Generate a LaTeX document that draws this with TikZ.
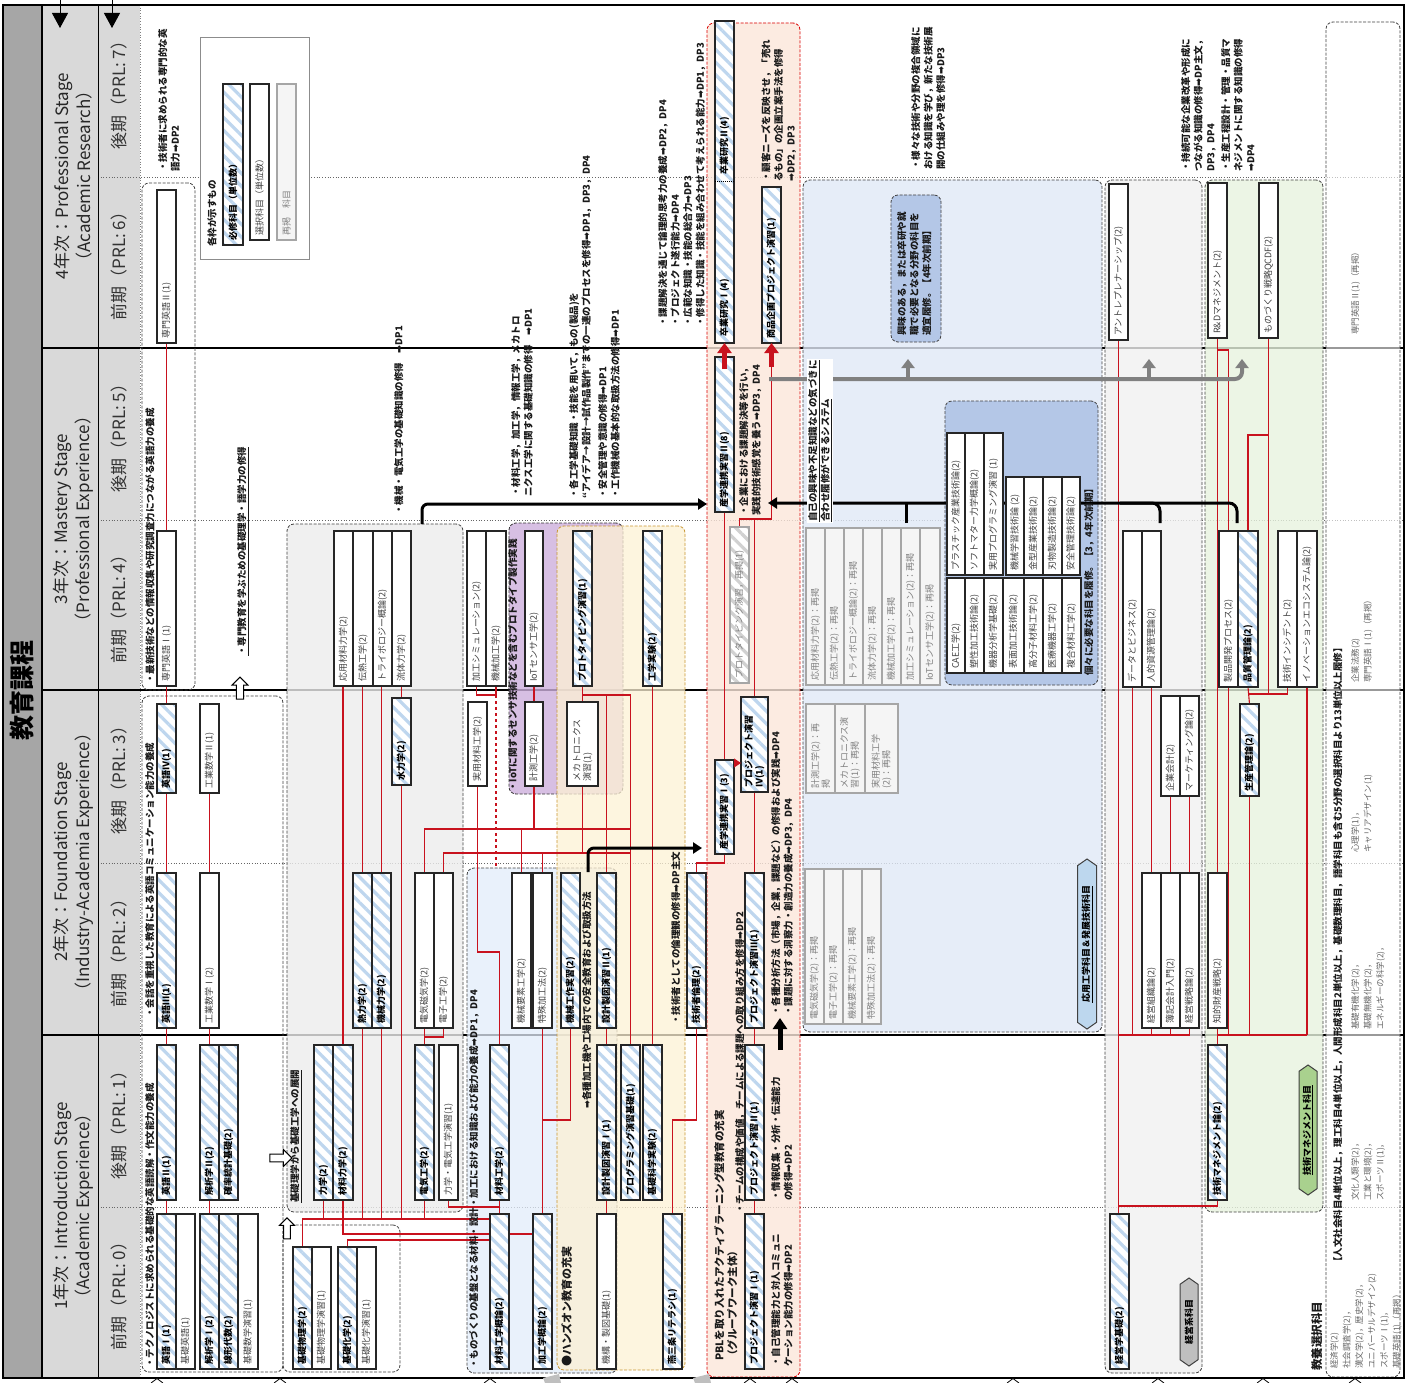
\documentclass[tikz,border=0pt]{standalone}
\usepackage{fontspec}
\setmainfont{Noto Sans CJK JP}
\setsansfont{Noto Sans CJK JP}
\newfontfamily\symfont{DejaVu Sans}
\usepackage{xcolor}
\definecolor{hatchblue}{RGB}{190,214,238}
\definecolor{linkred}{RGB}{200,18,30}
\definecolor{hdrgray}{RGB}{217,217,217}
\definecolor{stripgray}{RGB}{166,166,166}
\definecolor{rgngray}{RGB}{236,236,236}
\definecolor{rgnmat}{RGB}{226,236,249}
\definecolor{rgnorange}{RGB}{253,241,212}
\definecolor{orangeline}{RGB}{200,150,50}
\definecolor{rgnpurple}{RGB}{205,175,220}
\definecolor{rgnpbl}{RGB}{251,230,218}
\definecolor{rgnblue}{RGB}{224,232,246}
\definecolor{rgndblue}{RGB}{180,199,231}
\definecolor{rgnmgray}{RGB}{240,240,240}
\definecolor{rgngreen}{RGB}{231,243,222}
\definecolor{tagblue}{RGB}{189,215,238}
\definecolor{taggreen}{RGB}{169,209,142}
\definecolor{taggray}{RGB}{191,191,191}
\definecolor{arrowgray}{RGB}{128,128,128}
\usepackage{tikz}
\usetikzlibrary{patterns.meta,shapes.symbols,shapes.arrows,arrows.meta}
\pgfdeclarelayer{regions}
\pgfdeclarelayer{links}
\pgfsetlayers{regions,links,main}

\newcommand{\rarr}{{\symfont ➡}}
% course box: style, name, x1, y1, x2, y2, text
\newcommand{\crs}[7]{%
  \node[#1, minimum width={(#5-#3)*1pt}, minimum height={(#6-#4)*1pt}] (#2) at ({(#3+#5)/2},{(#4+#6)/2}) {};
  \node[#1 text, rotate=90, anchor=west] (#2-t) at ([yshift=4pt]#2.south) {#7};}
% group region: style, name, x1, y1, x2, y2
\newcommand{\rgn}[6]{%
  \node[#1, minimum width={(#5-#3)*1pt}, minimum height={(#6-#4)*1pt}] (#2) at ({(#3+#5)/2},{(#4+#6)/2}) {};}

\begin{document}
\begin{tikzpicture}[x=1pt, y=-1pt,
    req/.style={draw=black!85, line width=1.2pt, inner sep=0pt, outer sep=0pt,
        preaction={fill=white}, pattern={Lines[angle=-45,distance=9pt,line width=3.2pt]}, pattern color=hatchblue},
    req text/.style={font=\bfseries\fontsize{9}{10.5}\selectfont, text=black, inner sep=0pt, align=left},
    ele/.style={draw=black!85, line width=1.2pt, fill=white, inner sep=0pt, outer sep=0pt},
    ele text/.style={font=\fontsize{9}{10.5}\selectfont, text=black!75, inner sep=0pt, align=left},
    rel/.style={draw=black!35, line width=1.2pt, fill=black!4, inner sep=0pt, outer sep=0pt},
    rel text/.style={font=\fontsize{9}{10.5}\selectfont, text=black!50, inner sep=0pt, align=left},
    relh/.style={rel, preaction={fill=white}, pattern={Lines[angle=-45,distance=9pt,line width=3.2pt]}, pattern color=black!18},
    relh text/.style={rel text},
    rgn/.style={rounded corners=7pt, draw=black!75, line width=0.8pt, dash pattern=on 3pt off 1.5pt, inner sep=0pt, outer sep=0pt},
    legendbox/.style={draw=black!45, line width=0.8pt, fill=white, inner sep=0pt, outer sep=0pt},
    desc/.style={rotate=90, anchor=north west, align=left, inner sep=0pt, font=\bfseries\fontsize{9.5}{12.5}\selectfont, text=black!90},
    lib/.style={desc, font=\fontsize{8.5}{12.5}\selectfont, text=black!60},
    yearlbl/.style={rotate=90, align=center, font=\fontsize{17}{22}\selectfont, text=black!85},
    semlbl/.style={rotate=90, font=\fontsize{17}{20}\selectfont, text=black!80},
    tag/.style={shape=signal, signal to=east and west, signal pointer angle=110, draw=black!75, line width=1pt,
        rotate=90, inner sep=1pt, font=\bfseries\fontsize{9}{10}\selectfont},
    warrow/.style={single arrow, draw=black, fill=white, line width=1pt, single arrow head extend=3pt,
        single arrow tip angle=90, inner sep=2pt},
    link/.style={draw=linkred, line width=1.1pt},
    bigred/.style={draw=linkred, line width=4.5pt, -{Triangle[width=14pt,length=10pt]}},
    bk/.style={line width=3pt, -{Triangle[width=11pt,length=9pt]}},
    bkl/.style={line width=3pt},
    gy/.style={draw=arrowgray, line width=4pt},
    gya/.style={gy, -{Triangle[width=13pt,length=9pt]}}
]
\useasboundingbox (0,0) rectangle (1406,1383);

\begin{pgfonlayer}{regions}
% header bands
\fill[stripgray] (3,5) rectangle (42,1378);
\fill[hdrgray] (42,5) rectangle (140,1378);

% semester and year rules
\foreach \y in {177,520,863,1207}
    \draw[black!60, dotted, line width=0.7pt] (98,\y) -- (1404,\y);
\foreach \y in {348,690,1035}
    \draw[line width=1.8pt] (42,\y) -- (1404,\y);
\draw[line width=2pt] (42,5) -- (42,1378);
\draw[line width=1pt] (98,5) -- (98,1378);
\draw[black!50, dotted, line width=0.7pt] (140,5) -- (140,1378);

% group regions
\rgn{rgn}{engA}{142}{696}{283}{1372}
\rgn{rgn}{engB}{142}{183}{195}{690}
\rgn{rgn}{bsci}{283}{1225}{400}{1372}
\rgn{rgn, fill=rgngray, fill opacity=0.8}{mech}{287}{524}{463}{1212}
\rgn{rgn, fill=rgnmat, fill opacity=0.75}{mat}{467}{868}{617}{1373}
\rgn{rgn, draw=black!80, fill=rgnpurple, fill opacity=0.8}{iotg}{509}{523}{623}{794}
\rgn{rgn, draw=orangeline, fill=rgnorange, fill opacity=0.75}{hands}{557}{526}{685}{1370}
\rgn{rgn, draw=red!85!black, fill=rgnpbl, fill opacity=0.8}{pbl}{707}{23}{800}{1377}
\rgn{rgn, fill=rgnblue, fill opacity=0.8}{appl}{803}{180}{1102}{1032}
\rgn{rgn, fill=rgndblue}{adv4}{891}{195}{941}{342}
\rgn{rgn, fill=rgndblue}{adv3}{945}{401}{1098}{685}
\rgn{rgn, fill=rgnmgray, fill opacity=0.8}{mgmt}{1105}{180}{1202}{1373}
\rgn{rgn, fill=rgngreen, fill opacity=0.8}{tman}{1205}{180}{1323}{1212}
\rgn{rgn, fill=white, fill opacity=0.6}{lib}{1326}{22}{1400}{1377}
\rgn{legendbox}{legend}{200}{37}{309}{259}

% outer frame
\draw[line width=2.2pt] (3,5) rectangle (1404,1378);
% arrow tips cut by the lower edge
\foreach \x in {157,280,490,750,792,1013,1158,1263,1355}
    \draw[line width=0.8pt, fill=white] (\x-6,1383) -- (\x,1378.5) -- (\x+6,1383);
\foreach \x in {553,703}
    \fill[black!25] (\x-8,1383) -- (\x-10,1378) -- (\x+6,1374) -- (\x+8,1383) -- cycle;
\end{pgfonlayer}

% header labels
\node[rotate=90, font=\bfseries\fontsize{25}{28}\selectfont] (title) at (22,690) {教育課程};
\node[yearlbl] (yr4) at (73,176) {4年次：Professional Stage\\（Academic Research）};
\node[yearlbl] (yr3) at (73,519) {3年次：Mastery Stage\\（Professional Experience）};
\node[yearlbl] (yr2) at (73,862) {2年次：Foundation Stage\\（Industry-Academia Experience）};
\node[yearlbl] (yr1) at (73,1206) {1年次：Introduction Stage\\（Academic Experience）};
\node[semlbl] (sm7) at (119,91) {後期（PRL: 7）};
\node[semlbl] (sm6) at (119,262) {前期（PRL: 6）};
\node[semlbl] (sm5) at (119,434) {後期（PRL: 5）};
\node[semlbl] (sm4) at (119,605) {前期（PRL: 4）};
\node[semlbl] (sm3) at (119,776) {後期（PRL: 3）};
\node[semlbl] (sm2) at (119,949) {前期（PRL: 2）};
\node[semlbl] (sm1) at (119,1121) {後期（PRL: 1）};
\node[semlbl] (sm0) at (119,1292) {前期（PRL: 0）};

% top arrows
\coordinate (ta1) at (60,0);
\coordinate (ta1e) at (60,28);
\coordinate (ta2) at (112,0);
\coordinate (ta2e) at (112,28);
\draw[line width=1pt, -{Triangle[width=16pt,length=15pt]}] (ta1) -- (ta1e);
\draw[line width=1pt, -{Triangle[width=16pt,length=15pt]}] (ta2) -- (ta2e);

% ---------------- courses ----------------
% 1st year, first term
\crs{req}{eng1}{157}{1214}{176}{1369}{英語Ⅰ(1)}
\crs{ele}{beng}{176}{1214}{195}{1369}{基礎英語(1)}
\crs{req}{kai1}{200}{1214}{219}{1369}{解析学Ⅰ(2)}
\crs{req}{senkei}{219}{1214}{238}{1369}{線形代数(2)}
\crs{ele}{kmex}{238}{1214}{258}{1369}{基礎数学演習(1)}
\crs{req}{bphys}{293}{1247}{312}{1369}{基礎物理学(2)}
\crs{ele}{bphysx}{312}{1247}{331}{1369}{基礎物理学演習(1)}
\crs{req}{bchem}{338}{1247}{357}{1369}{基礎化学(2)}
\crs{ele}{bchemx}{357}{1247}{376}{1369}{基礎化学演習(1)}
\crs{req}{zaigai}{490}{1214}{509}{1369}{材料工学概論(2)}
\crs{req}{kakogai}{533}{1214}{552}{1369}{加工学概論(2)}
\crs{ele}{kikou}{597}{1214}{616}{1369}{機構・製図基礎(1)}
\crs{req}{tsubame}{663}{1214}{682}{1369}{燕三条リテラシ(1)}
\crs{req}{pj1}{745}{1214}{764}{1369}{プロジェクト演習Ⅰ(1)}
\crs{req}{keiei}{1110}{1214}{1129}{1369}{経営学基礎(2)}

% 1st year, second term
\crs{req}{eng2}{157}{1045}{176}{1200}{英語Ⅱ(1)}
\crs{req}{kai2}{200}{1045}{219}{1200}{解析学Ⅱ(2)}
\crs{req}{kakuritsu}{219}{1045}{238}{1200}{確率統計基礎(2)}
\crs{req}{riki}{314}{1045}{333}{1200}{力学(2)}
\crs{req}{zairiki}{333}{1045}{353}{1200}{材料力学(2)}
\crs{req}{denki}{415}{1045}{434}{1200}{電気工学(2)}
\crs{ele}{rdx}{439}{1045}{458}{1200}{力学・電気工学演習(1)}
\crs{req}{zaiko}{490}{1045}{509}{1200}{材料工学(2)}
\crs{req}{sei1}{597}{1045}{616}{1200}{設計製図演習Ⅰ(1)}
\crs{req}{prog}{621}{1045}{640}{1200}{プログラミング演習基礎(1)}
\crs{req}{kisojikken}{643}{1045}{662}{1200}{基礎科学実験(2)}
\crs{req}{pj2}{745}{1045}{764}{1200}{プロジェクト演習Ⅱ(1)}
\crs{req}{gijutsuman}{1208}{1045}{1227}{1200}{技術マネジメント論(2)}

% 2nd year, first term
\crs{req}{eng3}{157}{873}{176}{1028}{英語Ⅲ(1)}
\crs{ele}{kmath1}{200}{873}{219}{1028}{工業数学Ⅰ(2)}
\crs{req}{netsu}{353}{873}{372}{1028}{熱力学(2)}
\crs{req}{kikairiki}{372}{873}{391}{1028}{機械力学(2)}
\crs{ele}{denji}{415}{873}{434}{1028}{電気磁気学(2)}
\crs{ele}{denshi}{434}{873}{453}{1028}{電子工学(2)}
\crs{ele}{kyouso}{512}{873}{531}{1028}{機械要素工学(2)}
\crs{ele}{tokushu}{533}{873}{552}{1028}{特殊加工法(2)}
\crs{req}{kousaku}{561}{873}{580}{1028}{機械工作実習(2)}
\crs{req}{sei2}{597}{873}{616}{1028}{設計製図演習Ⅱ(1)}
\crs{req}{rinri}{687}{873}{706}{1028}{技術者倫理(2)}
\crs{req}{pj3}{745}{873}{764}{1028}{プロジェクト演習Ⅲ(1)}
\crs{rel}{re21}{805}{869}{824}{1024}{電気磁気学(2)：再掲}
\crs{rel}{re22}{824}{869}{843}{1024}{電子工学(2)：再掲}
\crs{rel}{re23}{843}{869}{862}{1024}{機械要素工学(2)：再掲}
\crs{rel}{re24}{862}{869}{881}{1024}{特殊加工法(2)：再掲}
\crs{ele}{soshiki}{1142}{873}{1161}{1028}{経営組織論(2)}
\crs{ele}{boki}{1161}{873}{1180}{1028}{簿記会計入門(2)}
\crs{ele}{senryaku}{1180}{873}{1199}{1028}{経営戦略論(2)}
\crs{ele}{chizai}{1208}{873}{1227}{1028}{知的財産戦略(2)}

% 2nd year, second term
\crs{req}{eng4}{157}{704}{176}{793}{英語Ⅳ(1)}
\crs{ele}{kmath2}{200}{704}{219}{793}{工業数学Ⅱ(1)}
\crs{req}{suiriki}{392}{698}{411}{785}{水力学(2)}
\crs{ele}{jitsuyou}{468}{702}{487}{786}{実用材料工学(2)}
\crs{ele}{keisoku}{525}{702}{543}{786}{計測工学(2)}
\crs{ele}{mecha}{567}{702}{598}{786}{メカトロニクス\\演習(1)}
\crs{req}{sangaku1}{715}{760}{734}{854}{産学連携実習Ⅰ(3)}
\crs{req}{pj4}{741}{697}{768}{792}{プロジェクト演習\\Ⅳ(1)}
\crs{rel}{re31}{806}{704}{835}{793}{計測工学(2)：再\\掲}
\crs{rel}{re32}{835}{704}{865}{793}{メカトロニクス演\\習(1)：再掲}
\crs{rel}{re33}{865}{704}{898}{793}{実用材料工学\\(2)：再掲}
\crs{ele}{kaikei}{1161}{696}{1180}{796}{企業会計(2)}
\crs{ele}{marke}{1180}{696}{1199}{796}{マーケティング論(2)}
\crs{req}{seisan}{1240}{704}{1259}{796}{生産管理論(2)}

% 3rd year, first term
\crs{ele}{seng1}{157}{531}{176}{686}{専門英語Ⅰ(1)}
\crs{ele}{ouyou}{334}{531}{353}{686}{応用材料力学(2)}
\crs{ele}{dennetsu}{353}{531}{373}{686}{伝熱工学(2)}
\crs{ele}{tribo}{373}{531}{392}{686}{トライボロジー概論(2)}
\crs{ele}{ryutai}{392}{531}{411}{686}{流体力学(2)}
\crs{ele}{kakosim}{467}{531}{486}{686}{加工シミュレーション(2)}
\crs{ele}{kikaikako}{486}{531}{506}{686}{機械加工学(2)}
\crs{ele}{iot}{525}{531}{543}{686}{IoTセンサ工学(2)}
\crs{req}{proto}{573}{531}{592}{686}{プロトタイピング演習(1)}
\crs{req}{kougakujikken}{643}{531}{662}{686}{工学実験(2)}
\crs{relh}{protore}{730}{527}{749}{683}{プロトタイピング演習，再掲(1)}
\crs{rel}{re41}{806}{528}{825}{685}{応用材料力学(2)：再掲}
\crs{rel}{re42}{825}{528}{844}{685}{伝熱工学(2)：再掲}
\crs{rel}{re43}{844}{528}{863}{685}{トライボロジー概論(2)：再掲}
\crs{rel}{re44}{863}{528}{882}{685}{流体力学(2)：再掲}
\crs{rel}{re45}{882}{528}{901}{685}{機械加工学(2)：再掲}
\crs{rel}{re46}{901}{528}{920}{685}{加工シミュレーション(2)：再掲}
\crs{rel}{re47}{920}{528}{940}{685}{IoTセンサ工学(2)：再掲}
\crs{ele}{adv1}{947}{433}{965}{575}{プラスチック産業技術論(2)}
\crs{ele}{adv2}{965}{433}{984}{575}{ソフトマター力学概論(2)}
\crs{ele}{adv3a}{984}{433}{1003}{575}{実用プログラミング演習 (1)}
\crs{ele}{adv4a}{1006}{477}{1024}{575}{機械学習技術論 (2)}
\crs{ele}{adv5}{1024}{477}{1043}{575}{金型産業技術論(2)}
\crs{ele}{adv6}{1043}{477}{1062}{575}{刃物製造技術論(2)}
\crs{ele}{adv7}{1062}{477}{1080}{575}{安全管理技術論(2)}
\crs{ele}{adv8}{947}{578}{965}{673}{CAE工学(2)}
\crs{ele}{adv9}{965}{578}{984}{673}{塑性加工技術論(2)}
\crs{ele}{adv10}{984}{578}{1003}{673}{機器分析学基礎(2)}
\crs{ele}{adv11}{1003}{578}{1024}{673}{表面加工技術論(2)}
\crs{ele}{adv12}{1024}{578}{1043}{673}{高分子材料工学(2)}
\crs{ele}{adv13}{1043}{578}{1062}{673}{医療機器工学(2)}
\crs{ele}{adv14}{1062}{578}{1081}{673}{複合材料工学(2)}
\crs{ele}{databiz}{1123}{531}{1142}{687}{データとビジネス(2)}
\crs{ele}{jinteki}{1142}{531}{1161}{687}{人的資源管理論(2)}
\crs{ele}{seihin}{1219}{531}{1238}{687}{製品開発プロセス(2)}
\crs{req}{hinshitsu}{1238}{531}{1258}{687}{品質管理論(2)}
\crs{ele}{incident}{1278}{531}{1297}{687}{技術インシデント(2)}
\crs{ele}{innov}{1297}{531}{1317}{687}{イノベーションエコシステム論(2)}

% 3rd year, second term
\crs{req}{sangaku2}{715}{357}{734}{512}{産学連携実習Ⅱ(8)}

% 4th year
\crs{ele}{seng2}{157}{190}{176}{343}{専門英語Ⅱ(1)}
\crs{req}{sotsu}{715}{21}{734}{343}{}
\node[req text, rotate=90, anchor=west] (sotsu1-t) at ([yshift=6pt]sotsu.south) {卒業研究Ⅰ(4)};
\node[req text, rotate=90, anchor=west] (sotsu2-t) at (724.5,175) {卒業研究Ⅱ(4)};
\coordinate (ysot) at (0,182);
\draw[line width=1pt, densely dotted] (sotsu.west |- ysot) -- (sotsu.east |- ysot);
\crs{req}{shohin}{762}{187}{781}{343}{商品企画プロジェクト演習(1)}
\crs{ele}{antre}{1109}{184}{1128}{340}{アントレプレナーシップ(2)}
\crs{ele}{rd}{1208}{183}{1227}{338}{R\&Dマネジメント(2)}
\crs{ele}{qcdf}{1259}{183}{1278}{338}{ものづくり戦略QCDF(2)}

% legend
\crs{req}{lgreq}{223}{84}{243}{245}{必修科目（単位数）}
\crs{ele}{lgele}{250}{84}{269}{240}{選択科目（単位数）}
\crs{rel}{lgrel}{277}{84}{296}{240}{再掲　科目}
\node[desc] (dleg) at (207,247) {各枠が示すもの};

% ---------------- connectors ----------------
\coordinate (yA) at (0,1219);
\coordinate (yB) at (0,1207);
\coordinate (yC) at (0,1234);
\coordinate (yD) at (0,1240);
\coordinate (yE) at (0,1037);
\coordinate (yF) at (0,952);
\coordinate (yG) at (0,1120);
\coordinate (yH) at (0,829);
\coordinate (yI) at (0,853);
\coordinate (yJ) at (0,695);
\coordinate (yK) at (0,863);
\coordinate (yL) at (0,519);
\coordinate (yM) at (0,1206);
\coordinate (yN) at (0,1035);
\coordinate (yO) at (0,350);
\coordinate (yP) at (0,694);
\coordinate (yQ) at (0,435);

\begin{pgfonlayer}{links}
% English and mathematics
\draw[link] (eng1.north) -- (eng2.south);
\draw[link] (eng2.north) -- (eng3.south);
\draw[link] (eng3.north) -- (eng4.south);
\draw[link] (eng4.north) -- (seng1.south);
\draw[link] (seng1.north) -- (seng2.south);
\draw[link] (kai1.north) -- (kai2.south);
\draw[link] (kai2.north) -- (kmath1.south);
\draw[link] (kmath1.north) -- (kmath2.south);
% basic science to engineering
\draw[link] (bphys.north) |- (zaigai.west |- yA);
\draw[link] (riki.south) -- (riki.south |- yA);
\draw[link] (netsu.south) -- (netsu.south |- yA);
\draw[link] (kikairiki.south) -- (kikairiki.south |- yA);
\draw[link] (suiriki.south) -- (suiriki.south |- yA);
\draw[link] (denki.south) -- (denki.south |- yA);
\draw[link] (rdx.south) |- (zaiko.south |- yB) -- (zaiko.south);
\draw[link] (zaiko.south) -- (zaigai.north);
\draw[link] (zairiki.south) |- (zaigai.west |- yC);
\draw[link] (zaigai.east |- yC) -- (kakogai.west |- yC);
\draw[link] (bchem.north) |- (zaigai.west |- yD);
\draw[link] (denki.north) -- (denji.south);
\draw[link] (denki.north |- yE) -| (denshi.south);
\draw[link] (zairiki.north) -- (zairiki.north |- ouyou.south);
\draw[link] (netsu.north) -- (netsu.north |- dennetsu.south);
\draw[link] (kikairiki.north) -- (kikairiki.north |- tribo.south);
\draw[link] (suiriki.north) -- (suiriki.north |- ryutai.south);
% materials, design and processing
\draw[link] (zaiko.north) |- (jitsuyou.south |- yF) -- (jitsuyou.south);
\draw[link] (kakogai.north) -- (tokushu.south);
\draw[link] (kakogai.north |- yG) -| (kousaku.south);
\draw[link] (kikou.north) -- (sei1.south);
\draw[link] (sei1.north) -- (sei2.south);
\draw[link] (kisojikken.north) -- (kougakujikken.south);
\draw[link] (prog.north) |- (proto.south |- yJ) -- (proto.south);
\draw[link] (proto.south) -- (mecha.north);
\draw[link] (sei2.north) -- (sei2.north |- yJ);
\draw[link] (iot.south) -- (keisoku.north);
\draw[link] (kakosim.south) |- (kikaikako.south |- yJ) -- (kikaikako.south);
\draw[link, dashed] (kikaikako.south |- yJ) -- (kikaikako.south |- mat.north);
\draw[link, dashed] (jitsuyou.south) -- (jitsuyou.south |- mat.north);
\draw[link] (denji.north) |- (prog.north |- yH);
\draw[link] (keisoku.south) -- (keisoku.south |- yH);
\draw[link] (denshi.north) |- (prog.north |- yI);
\draw[link] (kyouso.north) -- (kyouso.north |- yH);
\draw[link] (tokushu.north) -- (tokushu.north |- yI);
\draw[link] (mecha.south) -- (mecha.south |- yI);
\draw[link] (tsubame.north) |- (rinri.south |- yG) -- (rinri.south);
% PBL chain
\draw[link] (rinri.north) |- (sangaku1.south |- yK) -- (sangaku1.south);
\draw[link] (pj1.north) -- (pj2.south);
\draw[link] (pj2.north) -- (pj3.south);
\draw[link] (pj3.north) -- (pj4.south);
\draw[link] (sangaku1.north) -- (sangaku2.south);
\draw[link] (pj4.north) |- (shohin.south |- yL) -- (shohin.south);
\draw[link] (protore.north) |- (pj4.north |- yL);
% management
\draw[link] (antre.south) -- (antre.south |- keiei.north);
\draw[link] (gijutsuman.south) |- (antre.south |- yM);
\draw[link] (antre.south |- yN) -| (senryaku.south);
\draw[link] (soshiki.south) -- (soshiki.south |- yN);
\draw[link] (boki.south) -- (boki.south |- yN);
\draw[link] (databiz.south) -- (databiz.south |- yN);
\draw[link] (jinteki.south) -- (soshiki.north);
\draw[link] (kaikei.south) -- (boki.north);
\draw[link] (marke.south) -- (senryaku.north);
\draw[link] (rd.south) -- (chizai.north);
\draw[link] (chizai.south) -- (gijutsuman.north);
\draw[link] (rd.south |- yO) -| (seihin.north);
\draw[link] (seihin.south) -- (seihin.south |- yN);
\draw[link] (qcdf.south) -- (qcdf.south |- yP);
\draw[link] (qcdf.south |- yQ) -| (hinshitsu.north);
\draw[link] (incident.south) |- (hinshitsu.south |- yP);
\draw[link] (hinshitsu.south) -- (seisan.north);
\draw[link] (seisan.south) -- (seisan.south |- yN);
\draw[link] (innov.south) -- (innov.south |- yN);
\draw[link] (rd.south |- yN) -- (innov.south |- yN);

% black and gray flow arrows
\coordinate (b1s) at (422,524);
\coordinate (b1e) at (707,504);
\draw[bk, rounded corners=6pt] (b1s) |- (b1e);
\coordinate (b2e) at (768,503);
\coordinate (b2a) at (906,523);
\coordinate (b2b) at (1160,523);
\coordinate (b2bj) at (1120,503);
\coordinate (b2c) at (1237,523);
\draw[bk, rounded corners=8pt] (b2c) |- (b2e);
\draw[bkl, rounded corners=8pt] (b2b) |- (b2bj);
\draw[bkl] (b2a) -- (b2a |- b2e);
\coordinate (b3s) at (588,872);
\coordinate (b3e) at (702,848);
\draw[bk, rounded corners=6pt] (b3s) |- (b3e);
\coordinate (g1s) at (769,379);
\coordinate (g1c) at (1242,359);
\coordinate (g1a) at (908,379);
\coordinate (g1at) at (908,359);
\coordinate (g1b) at (1149,379);
\coordinate (g1bt) at (1149,359);
\draw[gya, rounded corners=7pt] (g1s) -| (g1c);
\draw[gya] (g1a) -- (g1at);
\draw[gya] (g1b) -- (g1bt);
\end{pgfonlayer}

\coordinate (b4s) at (780,1050);
\coordinate (b4e) at (780,1018);
\draw[line width=5pt, -{Triangle[width=14pt,length=11pt]}] (b4s) -- (b4e);

% red arrows into the 4th year
\coordinate (ra1) at ([yshift=-12pt]sangaku2.north);
\draw[bigred] (ra1) -- (sotsu.south);
\coordinate (ra2) at ([yshift=-24pt]shohin.south);
\draw[bigred] (ra2) -- (shohin.south);
\coordinate (s1a) at ([yshift=-3pt]sangaku1.north east);
\draw[link, -{Triangle[width=9pt,length=7pt]}] (s1a) -- (s1a -| pj4.west);

% white block arrows
\node[warrow, minimum height=22pt, minimum width=17pt] (wa1) at (279,1158) {};
\node[warrow, rotate=90, minimum height=21pt, minimum width=15pt] (wa2) at (287,1230) {};
\node[warrow, rotate=90, minimum height=22pt, minimum width=16pt] (wa3) at (240,690) {};

% group tags
\node[tag, fill=tagblue, minimum width=170pt, minimum height=19pt] (tagA) at (1087,944) {\underline{応用工学科目＆発展技術科目}};
\node[tag, fill=taggray, minimum width=88pt, minimum height=18pt] (tagM) at (1189,1322) {経営系科目};
\node[tag, fill=taggreen, minimum width=130pt, minimum height=18pt] (tagT) at (1308,1130) {\underline{技術マネジメント科目}};

% ---------------- descriptions ----------------
\node[desc] (d1) at (158,172) {・技術者に求められる専門的な英\\語力\rarr DP2};
\node[desc] (d2) at (145,684) {・最新技術などの情報収集や研究調査力につながる英語力の養成};
\node[desc] (d3) at (145,1018) {・会話を重視した教育による英語コミュニケーション能力の養成};
\node[desc] (d4) at (145,1368) {・テクノロジストに求められる基礎的な英語読解・作文能力の養成};
\node[desc] (d5) at (237,656) {\underline{・専門教育を学ぶための基礎理学・語学力の修得}};
\node[desc] (dbase) at (290,1203) {\underline{基礎理学から基礎工学への展開}};
\node[desc] (d6) at (394,515) {・機械・電気工学の基礎知識の修得\quad\rarr DP1};
\node[desc] (d7) at (511,497) {・材料工学，加工学，情報工学，メカトロ\\ニクス工学に関する基礎知識の修得\quad\rarr DP1};
\node[desc] (d8) at (569,499) {・各工学基礎知識・技能を用いて，もの(製品)を\\“アイデア→設計→試作品製作”までの一連のプロセスを修得\rarr DP1，DP3，DP4};
\node[desc] (d9) at (598,499) {・安全管理や意識の修得\rarr DP1\\・工作機械の基本的な取扱方法の修得\rarr DP1};
\node[desc] (d11) at (658,327) {・課題解決を通じて論理的思考力の養成\rarr DP2，DP4\\・プロジェクト遂行能力\rarr DP4\\・広範な知識・技能の総合力\rarr DP3\\・修得した知識・技能を組み合わせて考えられる能力\rarr DP1，DP3};
\node[desc] (d12) at (761,182) {・顧客ニーズを反映させ，「売れ\\るもの」の企画立案手法を修得\\\rarr DP2，DP3};
\node[desc] (d13) at (739,516) {・企業における課題解決等を行い，\\実践的技術感覚を養う\rarr DP3，DP4};
\node[desc, fill=white, inner sep=1pt] (d26) at (807,523) {\underline{自己の興味や不足知識などの気づきに}\\\underline{合わせ履修ができるシステム}};
\node[desc] (d14) at (911,170) {・様々な技術や分野の複合領域に\\おける知識を学び，新たな技術展\\開の仕組みや理を修得\rarr DP3};
\node[desc] (d27) at (897,336) {興味のある，または卒研や就\\職で必要となる分野の科目を\\適宜履修。【4年次前期】};
\node[desc] (d28) at (1084,676) {個々に必要な科目を履修。【3，4年次前期】};
\node[desc] (d15) at (1181,172) {・持続可能な企業改革や形成に\\つながる知識の修得\rarr DP主文，\\DP3，DP4};
\node[desc] (d16) at (1221,172) {・生産工程設計・管理・品質マ\\ネジメントに関する知識の修得\\\rarr DP4};
\node[desc] (diot) at (508,792) {・IoTに関するセンサ技術などを含むプロトタイプ製作実践};
\node[desc] (d17) at (469,1369) {・ものづくりの基盤となる材料・設計・加工における知識および能力の養成\rarr DP1，DP4};
\node[desc, font=\bfseries\fontsize{11}{13}\selectfont] (d18) at (561,1367) {●ハンズオン教育の充実};
\node[desc] (d19) at (582,1109) {\rarr 各種加工機や工場内での安全教育および取扱方法};
\node[desc] (d20) at (671,1025) {・技術者としての倫理観の修得\rarr DP主文};
\node[desc, font=\bfseries\fontsize{10.5}{13}\selectfont] (d21) at (714,1361) {PBLを取り入れたアクティブラーニング型教育の充実\\（グループワーク主体）};
\node[desc] (d22) at (735,1214) {・チームの構成や価値，チームによる課題への取り組み方を修得\rarr DP2};
\node[desc] (d23) at (771,1367) {・自己管理能力と対人コミュニ\\ケーション能力の修得\rarr DP2};
\node[desc] (d24) at (771,1201) {・情報収集・分析・伝達能力\\の修得\rarr DP2};
\node[desc] (d25) at (771,1016) {・各種分析方法（市場，企業，課題など）の修得および実践\rarr DP4\\・課題に対する洞察力・創造力の養成\rarr DP3，DP4};

% liberal arts
\node[desc] (d30) at (1333,1267) {【人文社会科目4単位以上，理工科目4単位以上，人間形成科目2単位以上，基礎数理科目，語学科目も含む5分野の選択科目より13単位以上履修】};
\node[desc, font=\bfseries\fontsize{11.5}{13}\selectfont] (d31) at (1311,1371) {教養選択科目};
\node[lib] (d32) at (1330,1369) {経済学(2)\\社会調査学(2)，\\漢文学(2)，歴史学(2)，\\ユニバーサルデザイン(2)\\スポーツⅠ(1)，\\基礎英語(1)（再掲）};
\node[lib] (d33) at (1351,1201) {文化人類学(2)，\\工業と環境(2)，\\スポーツⅡ(1)，};
\node[lib] (d34) at (1351,1030) {基礎有機化学(2)，\\基礎無機化学(2)，\\エネルギーの科学(2)，};
\node[lib] (d35) at (1351,853) {心理学(1)，\\キャリアデザイン(1)};
\node[lib] (d36) at (1351,683) {企業法務(2)\\専門英語Ⅰ(1)（再掲）};
\node[lib] (d37) at (1351,335) {専門英語Ⅱ(1)（再掲）};

\end{tikzpicture}
\end{document}
